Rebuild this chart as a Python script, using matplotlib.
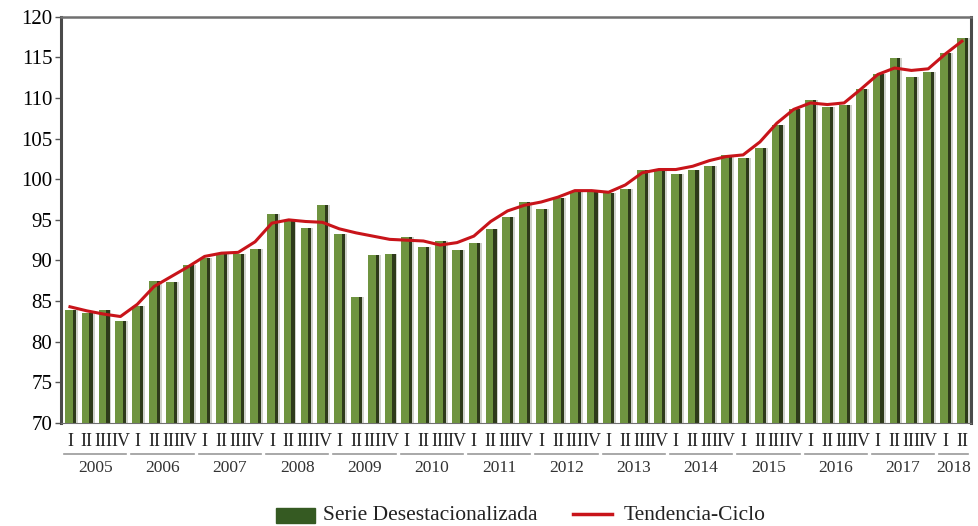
import numpy as np
import matplotlib.pyplot as plt

# quarterly data, 2005 Q1 .. 2018 Q2
years = [str(y) for y in range(2005, 2019)]
quarters = ["I", "II", "III", "IV"]

serie = [83.9, 83.5, 83.9, 82.6,
         84.4, 87.5, 87.3, 89.5,
         90.3, 90.8, 90.8, 91.4,
         95.7, 94.8, 94.0, 96.8,
         93.2, 85.5, 90.7, 90.8,
         92.9, 91.6, 92.4, 91.3,
         92.2, 93.9, 95.4, 97.2,
         96.3, 97.7, 98.5, 98.5,
         98.3, 98.8, 101.2, 101.2,
         100.7, 101.2, 101.6, 103.0,
         102.6, 103.9, 106.7, 108.6,
         109.8, 108.9, 109.1, 111.1,
         113.0, 114.9, 112.6, 113.2,
         115.5, 117.4]

tendencia = [84.3, 83.8, 83.4, 83.1,
             84.6, 86.8, 88.0, 89.2,
             90.5, 90.9, 91.0, 92.3,
             94.6, 95.0, 94.8, 94.7,
             93.9, 93.4, 93.0, 92.6,
             92.5, 92.4, 91.9, 92.2,
             93.0, 94.8, 96.1, 96.8,
             97.2, 97.8, 98.6, 98.6,
             98.4, 99.3, 100.8, 101.2,
             101.2, 101.6, 102.3, 102.8,
             103.0, 104.6, 106.9, 108.6,
             109.4, 109.2, 109.4, 111.1,
             112.9, 113.7, 113.4, 113.6,
             115.4, 117.0]

n = len(serie)
x = np.arange(n)
plt.rcParams['font.family'] = ['Liberation Serif', 'DejaVu Serif']

fig = plt.figure(figsize=(9.79, 5.26), dpi=100)
ax = fig.add_axes([0.062, 0.196, 0.930, 0.772])

# fake 3d look: grey shadow, dark side, green face
ax.bar(x + 0.16, serie, width=0.60, color="#cfd1ca", zorder=1)
ax.bar(x + 0.06, serie, width=0.58, color="#2e3a1a", zorder=2)
ax.bar(x - 0.07, serie, width=0.46, color="#6f9440", zorder=3)
ax.plot(x, tendencia, color="#c8141a", lw=2.2, zorder=5)

ax.set_xlim(-0.55, n - 0.45)
ax.set_ylim(70, 120)
ax.set_yticks(range(70, 121, 5))
ax.tick_params(axis="y", labelsize=15, length=4, width=1, color="#555555", pad=2)
ax.set_xticks([])
for s in ["left", "right"]:
    ax.spines[s].set_linewidth(2.2)
    ax.spines[s].set_color("#4a4a4a")
ax.spines["top"].set_linewidth(1.8)
ax.spines["top"].set_color("#707070")
ax.spines["bottom"].set_color("#707070")

# quarter labels, year underline and year labels
trans = ax.get_xaxis_transform()
for i in range(n):
    ax.text(x[i], -0.045, quarters[i % 4], transform=trans, ha="center",
            va="center", fontsize=13, color="#222222")
for k, yr in enumerate(years):
    i0 = k * 4
    i1 = min(i0 + 3, n - 1)
    ax.plot([x[i0] - 0.35, x[i1] + 0.35], [-0.077, -0.077], transform=trans,
            color="#9a9a9a", lw=1.2, clip_on=False)
    ax.text((x[i0] + x[i1]) / 2, -0.112, yr, transform=trans, ha="center",
            va="center", fontsize=12.5, color="#333333")

# legend
fig.patches.append(plt.Rectangle((0.282, 0.005), 0.040, 0.03, transform=fig.transFigure,
                                 color="#355a22", figure=fig))
fig.text(0.330, 0.02, "Serie Desestacionalizada", ha="left", va="center",
         fontsize=15.5, color="#222222")
fig.lines.append(plt.Line2D([0.585, 0.625], [0.022, 0.022], transform=fig.transFigure,
                            color="#c8141a", lw=2.5, figure=fig))
fig.text(0.637, 0.02, "Tendencia-Ciclo", ha="left", va="center",
         fontsize=15.5, color="#222222")

fig.savefig("out.png", dpi=100)
